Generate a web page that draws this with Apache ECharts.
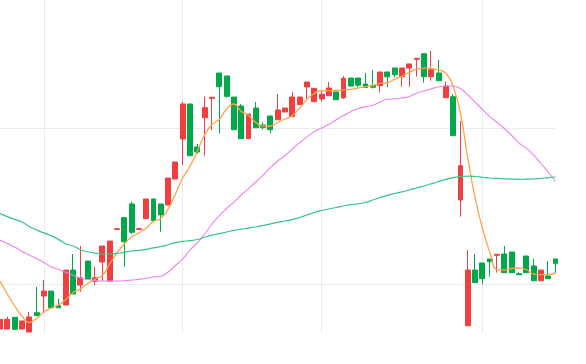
<!DOCTYPE html>
<html>
<head>
<meta charset="utf-8">
<script src="https://cdn.jsdelivr.net/npm/echarts@6/dist/echarts.min.js"></script>
<style>html,body{margin:0;padding:0;background:#fff}#c{width:586px;height:364px}</style>
</head>
<body>
<div id="c"></div>
<script>
var dates = ['2021-03-24','2021-03-25','2021-03-26','2021-03-29','2021-03-30','2021-03-31',
'2021-04-01','2021-04-07','2021-04-08','2021-04-09','2021-04-12','2021-04-13','2021-04-14','2021-04-15','2021-04-16',
'2021-04-19','2021-04-20','2021-04-21','2021-04-22','2021-04-23','2021-04-26','2021-04-27','2021-04-28','2021-04-29','2021-04-30',
'2021-05-05','2021-05-06','2021-05-07','2021-05-10','2021-05-11','2021-05-12','2021-05-13','2021-05-14','2021-05-17','2021-05-18',
'2021-05-19','2021-05-20','2021-05-21','2021-05-24','2021-05-25','2021-05-26','2021-05-27','2021-05-28','2021-05-31',
'2021-06-01','2021-06-02','2021-06-03','2021-06-04','2021-06-07','2021-06-08','2021-06-09','2021-06-10','2021-06-11',
'2021-06-14','2021-06-15','2021-06-16','2021-06-17','2021-06-18','2021-06-21','2021-06-22','2021-06-23','2021-06-24','2021-06-25',
'2021-06-28','2021-06-29','2021-06-30',
'2021-07-01','2021-07-02','2021-07-05','2021-07-06','2021-07-07','2021-07-08','2021-07-09','2021-07-12','2021-07-13','2021-07-14','2021-07-15'];

// [open, close, low, high]
var ohlc = [
[2942.3,2954.7,2942.3,2954.7],[2942.3,2954.7,2942.3,2958.1],[2957.3,2941.9,2941.9,2957.3],[2942.3,2952.6,2942.3,2952.6],
[2938.5,2957.7,2938.5,2964.1],[2963.2,2959.4,2959.4,2996.2],[2984.6,2991.0,2964.5,3005.1],[2991.0,2969.6,2969.6,2991.0],
[2972.2,2969.6,2969.6,2981.2],[2973.1,3017.9,2973.1,3017.9],[3017.9,2987.2,2987.2,3038.5],[2998.7,3008.1,2990.1,3048.7],
[3029.5,3006.4,3006.4,3029.5],[3003.5,3008.1,2998.7,3021.8],[3028.2,3048.7,3003.8,3048.7],[3003.8,3055.1,3003.8,3055.1],
[3070.0,3071.0,3070.0,3071.0],[3085.0,3054.2,3022.2,3085.0],[3102.6,3066.3,3064.1,3105.5],[3070.0,3071.0,3070.0,3071.0],
[3083.7,3109.0,3083.7,3109.0],[3109.0,3081.2,3081.2,3109.0],[3102.6,3088.5,3067.1,3102.6],[3101.3,3135.9,3101.3,3135.9],
[3134.6,3156.4,3134.6,3156.4],[3185.9,3230.8,3152.6,3233.3],[3230.8,3164.5,3164.5,3230.8],[3175.6,3169.2,3166.7,3179.5],
[3213.2,3226.0,3164.5,3240.1],[3238.1,3239.4,3197.4,3239.4],[3270.5,3253.0,3193.2,3270.5],[3266.7,3240.6,3238.8,3266.7],
[3239.7,3197.8,3197.8,3239.7],[3228.2,3186.3,3186.3,3230.8],[3186.3,3217.9,3186.3,3217.9],[3225.6,3200.4,3200.4,3233.3],
[3203.8,3200.4,3198.3,3206.8],[3215.4,3197.8,3193.2,3215.4],[3210.6,3223.1,3210.6,3243.6],[3220.5,3225.6,3220.5,3225.6],
[3214.7,3239.7,3214.7,3246.2],[3229.9,3239.7,3229.9,3239.7],[3252.6,3259.0,3237.2,3259.0],[3233.7,3250.9,3233.7,3250.9],
[3237.2,3243.3,3233.7,3248.1],[3241.4,3251.3,3241.4,3259.0],[3246.2,3236.3,3236.3,3246.2],[3238.7,3263.8,3237.2,3266.7],
[3264.1,3253.8,3253.8,3264.1],[3264.1,3254.9,3252.2,3264.1],[3256.4,3251.9,3251.9,3270.5],[3254.7,3252.2,3250.6,3274.4],
[3254.5,3271.8,3245.5,3271.8],[3271.8,3265.6,3252.2,3271.8],[3276.9,3268.3,3265.0,3276.9],[3265.8,3276.9,3253.0,3276.9],
[3276.9,3282.1,3253.0,3282.1],[3288.1,3289.4,3265.8,3289.4],[3295.3,3265.8,3258.1,3295.3],[3265.8,3274.7,3260.6,3298.7],
[3270.5,3260.6,3260.6,3287.2],[3238.8,3253.8,3238.8,3259.4],[3240.1,3190.1,3190.1,3243.6],[3107.7,3151.7,3086.3,3209.0],
[2946.5,3017.9,2946.5,3043.6],[3017.9,3001.7,3001.7,3038.5],[3026.9,3006.8,2999.4,3026.9],[3032.1,3028.6,3009.4,3032.1],
[3036.8,3038.1,3014.5,3038.1],[3038.5,3014.5,3014.5,3048.7],[3041.0,3014.5,3014.5,3041.0],[3013.2,3011.9,3011.9,3015.4],
[3035.9,3014.5,3014.5,3035.9],[3023.1,3004.2,3004.2,3032.1],[3004.2,3017.9,3004.2,3017.9],[3010.3,3006.8,3006.8,3029.5],
[3032.1,3026.0,3014.1,3032.1]
];

var maShort = [3003.8,2987.2,2971.8,2959.0,2950.6,2955.8,2964.1,2969.2,2973.1,2980.1,2989.1,2993.6,3000.6,3006.4,3010.9,
3025.6,3039.7,3051.3,3060.3,3065.4,3071.8,3080.1,3084.0,3096.2,3115.4,3135.9,3151.3,3170.5,3191.0,3204.5,3210.9,3224.4,
3230.8,3221.2,3216.0,3207.1,3202.3,3202.6,3207.1,3211.5,3216.0,3225.6,3236.5,3244.2,3247.8,3247.8,3248.3,3249.0,3249.6,
3251.3,3253.0,3254.5,3257.1,3258.3,3262.6,3266.7,3271.2,3275.6,3276.7,3276.3,3274.4,3269.9,3253.2,3218.6,3161.5,3110.3,
3071.8,3041.0,3018.6,3017.9,3019.9,3020.5,3018.6,3012.8,3012.1,3012.4,3014.1];

var maMid = [3056.4,3051.9,3047.4,3041.7,3037.2,3032.7,3027.6,3022.2,3018.6,3015.0,3011.2,3007.7,3005.8,3004.7,3003.8,
3003.8,3003.8,3004.1,3005.1,3006.0,3007.3,3009.0,3010.0,3015.4,3023.7,3032.1,3043.6,3052.6,3064.1,3076.9,3087.8,3096.8,
3105.1,3114.1,3122.4,3130.8,3139.7,3149.4,3157.7,3164.7,3173.1,3181.2,3188.7,3195.5,3200.0,3204.7,3210.5,3216.0,3220.9,
3225.0,3227.2,3229.2,3233.3,3236.8,3237.4,3238.5,3240.4,3244.5,3247.4,3250.4,3252.6,3253.8,3253.8,3250.3,3242.6,3233.3,
3224.0,3214.5,3207.4,3199.4,3190.4,3181.0,3174.1,3165.4,3154.5,3143.6,3131.4];

var maLong = [3090.4,3086.4,3082.9,3079.5,3073.7,3069.4,3065.5,3061.8,3057.2,3051.5,3048.7,3044.0,3041.4,3039.7,3038.5,
3038.5,3039.2,3040.6,3042.3,3043.2,3044.5,3046.4,3047.9,3050.3,3053.1,3054.7,3055.6,3057.1,3060.0,3062.6,3064.5,3066.7,
3068.7,3070.3,3071.7,3073.1,3075.0,3077.2,3079.0,3080.8,3082.6,3085.3,3088.5,3091.7,3094.2,3096.2,3098.1,3100.0,3101.7,
3102.8,3104.5,3107.7,3110.9,3113.7,3116.0,3118.2,3120.5,3123.1,3125.6,3128.5,3131.4,3134.1,3136.5,3137.8,3138.2,3137.8,
3136.9,3135.9,3135.3,3134.9,3134.4,3134.2,3134.4,3134.6,3135.4,3136.4,3137.2];

var chart = echarts.init(document.getElementById('c'), null, {renderer: 'canvas'});
chart.setOption({
  animation: false,
  backgroundColor: '#ffffff',
  grid: {left: -2.5, right: 30.5, top: 0, bottom: 31, containLabel: false},
  xAxis: {
    type: 'category',
    data: dates,
    boundaryGap: false,
    axisLine: {show: false},
    axisTick: {show: false},
    axisLabel: {show: false},
    splitLine: {
      show: true,
      lineStyle: {color: '#e8ecf2', width: 1},
      interval: function (idx) {
        return idx > 0 && dates[idx].slice(5, 7) !== dates[idx - 1].slice(5, 7);
      }
    }
  },
  yAxis: {
    type: 'value',
    scale: true,
    min: 2937.2,
    max: 3364.1,
    splitNumber: 2,
    axisLine: {show: false},
    axisTick: {show: false},
    axisLabel: {show: false},
    splitLine: {show: true, showMinLine: false, showMaxLine: false, lineStyle: {color: '#e8ecf2', width: 1}}
  },
  series: [
    {
      type: 'candlestick',
      data: ohlc,
      clip: false,
      barWidth: '74%',
      itemStyle: {color: '#f03f3f', color0: '#00a84a', borderColor: '#f03f3f', borderColor0: '#00a84a', borderWidth: 1}
    },
    {type: 'line', data: maShort, smooth: true, symbol: 'none', clip: false,
      lineStyle: {color: '#ffa348', width: 1.3}, z: 3},
    {type: 'line', data: maMid, smooth: true, symbol: 'none', clip: false,
      lineStyle: {color: '#ee82ee', width: 1.1}, z: 3},
    {type: 'line', data: maLong, smooth: true, symbol: 'none', clip: false,
      lineStyle: {color: '#35c487', width: 1.2}, z: 3}
  ]
});
</script>
</body>
</html>
